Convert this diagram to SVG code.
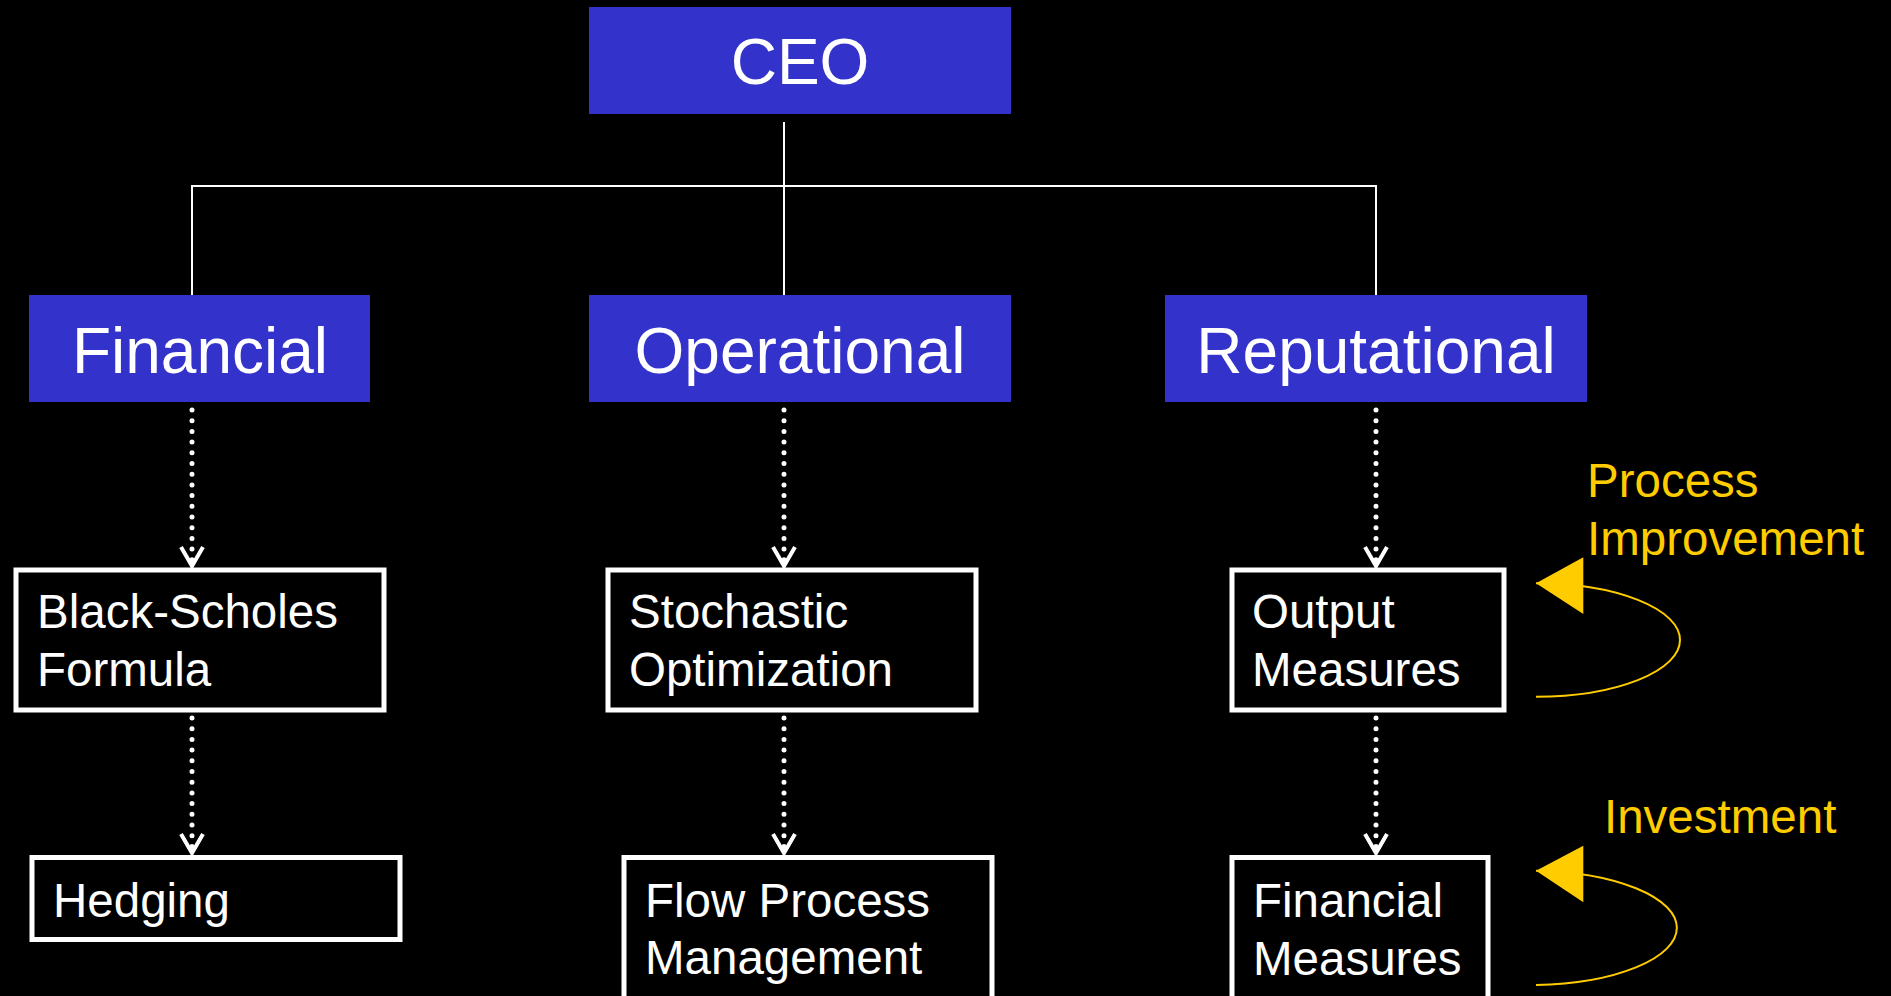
<svg xmlns="http://www.w3.org/2000/svg" width="1891" height="996" viewBox="0 0 1891 996">
<defs>
<style>
.hdr{fill:#3333CC;}
.htxt{font-family:"Liberation Sans",Arial,sans-serif;font-size:64px;fill:#FFFFFF;text-anchor:middle;}
.box{fill:#000000;stroke:#FFFFFF;stroke-width:5;}
.btxt{font-family:"Liberation Sans",Arial,sans-serif;font-size:47.5px;fill:#FFFFFF;}
.ytxt{font-family:"Liberation Sans",Arial,sans-serif;font-size:47.5px;fill:#FFCC00;}
.solid{stroke:#FFFFFF;stroke-width:2;fill:none;}
.dot{stroke:#FFFFFF;stroke-width:5;stroke-linecap:round;stroke-dasharray:0 10.7;fill:none;}
.vee{stroke:#FFFFFF;stroke-width:4;fill:none;}
.loop{stroke:#FFCC00;stroke-width:2;fill:none;}
.yarrow{fill:#FFCC00;}
</style>
</defs>
<rect x="0" y="0" width="1891" height="996" fill="#000000"/>

<g id="connectors">
<line class="solid" x1="784" y1="122" x2="784" y2="296"/>
<polyline class="solid" points="192,296 192,186 1376,186 1376,296"/>
<line class="dot" x1="192" y1="410" x2="192" y2="562"/>
<line class="dot" x1="784" y1="410" x2="784" y2="562"/>
<line class="dot" x1="1376" y1="410" x2="1376" y2="562"/>
<line class="dot" x1="192" y1="718" x2="192" y2="849"/>
<line class="dot" x1="784" y1="718" x2="784" y2="849"/>
<line class="dot" x1="1376" y1="718" x2="1376" y2="849"/>
<path class="vee" d="M181,547 L192,566 L203,547"/>
<path class="vee" d="M773,547 L784,566 L795,547"/>
<path class="vee" d="M1365,547 L1376,566 L1387,547"/>
<path class="vee" d="M181,834 L192,853 L203,834"/>
<path class="vee" d="M773,834 L784,853 L795,834"/>
<path class="vee" d="M1365,834 L1376,853 L1387,834"/>
<path class="loop" d="M1536,696.7 A144,56.7 0 0 0 1536,583.3"/>
<polygon class="yarrow" points="1536,583.3 1583.3,557.3 1583.3,614"/>
<path class="loop" d="M1536,985 A147,57.2 0 0 0 1536,870.7"/>
<polygon class="yarrow" points="1536,870.7 1583.3,845.7 1583.3,902.3"/>
</g>

<g id="ceo">
<rect class="hdr" x="589" y="7" width="422" height="107"/>
<text class="htxt" x="800" y="84">CEO</text>
</g>
<g id="financial">
<rect class="hdr" x="29" y="295" width="341" height="107"/>
<text class="htxt" x="200" y="373">Financial</text>
</g>
<g id="operational">
<rect class="hdr" x="589" y="295" width="422" height="107"/>
<text class="htxt" x="800" y="373">Operational</text>
</g>
<g id="reputational">
<rect class="hdr" x="1165" y="295" width="422" height="107"/>
<text class="htxt" x="1376" y="373">Reputational</text>
</g>

<g id="black-scholes">
<rect class="box" x="16" y="570" width="368" height="140"/>
<text class="btxt" x="37" y="628">Black-Scholes</text>
<text class="btxt" x="37" y="686">Formula</text>
</g>
<g id="hedging">
<rect class="box" x="32" y="857.5" width="368" height="82"/>
<text class="btxt" x="53" y="917">Hedging</text>
</g>
<g id="stochastic">
<rect class="box" x="608" y="570" width="368" height="140"/>
<text class="btxt" x="629" y="628">Stochastic</text>
<text class="btxt" x="629" y="686">Optimization</text>
</g>
<g id="flow-process">
<rect class="box" x="624" y="857.5" width="368" height="150"/>
<text class="btxt" x="645" y="917">Flow Process</text>
<text class="btxt" x="645" y="974">Management</text>
</g>
<g id="output-measures">
<rect class="box" x="1232" y="570" width="272" height="140"/>
<text class="btxt" x="1252" y="628">Output</text>
<text class="btxt" x="1252" y="686">Measures</text>
</g>
<g id="financial-measures">
<rect class="box" x="1232" y="857.5" width="256" height="150"/>
<text class="btxt" x="1253" y="917">Financial</text>
<text class="btxt" x="1253" y="975">Measures</text>
</g>

<g id="process-improvement">
<text class="ytxt" x="1587" y="497">Process</text>
<text class="ytxt" x="1587" y="555">Improvement</text>
</g>
<g id="investment">
<text class="ytxt" x="1604" y="833">Investment</text>
</g>
</svg>
